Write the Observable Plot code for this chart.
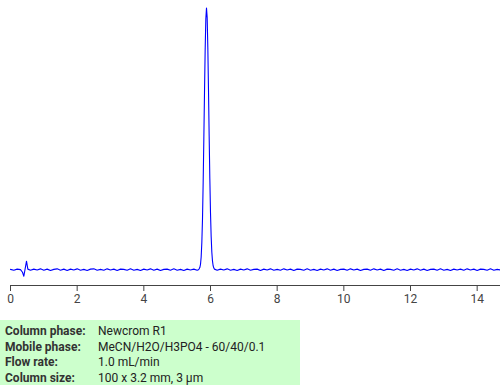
<!DOCTYPE html>
<html>
<head>
<meta charset="utf-8">
<script src="https://cdn.jsdelivr.net/npm/d3@7"></script>
<script src="https://cdn.jsdelivr.net/npm/@observablehq/plot@0.6"></script>
<style>
  html, body { margin: 0; padding: 0; background: #fff; }
  body { width: 500px; height: 385px; overflow: hidden; font-family: Roboto, "Noto Sans", sans-serif; }
  #info { width: 300px; height: 65px; background: #ccffcc; box-sizing: border-box; padding: 4px 0 0 5px; font-size: 12px; color: #222; }
  #info table { border-collapse: collapse; }
  #info td { padding: 0; line-height: 15.5px; }
  #info td.k { font-weight: bold; color: #333; width: 93px; }
</style>
</head>
<body>
<div id="chart"></div>
<div id="info"></div>
<script>
// Retention time (min) and detector signal (relative)
const time = [
  0.0,0.1,0.2,0.3,0.36,0.40,0.44,0.48,0.52,0.6,0.7,0.8,0.9,
  1.0,1.1,1.2,1.3,1.4,1.5,1.6,1.7,1.8,1.9,
  2.0,2.1,2.2,2.3,2.4,2.5,2.6,2.7,2.8,2.9,
  3.0,3.1,3.2,3.3,3.4,3.5,3.6,3.7,3.8,3.9,
  4.0,4.1,4.2,4.3,4.4,4.5,4.6,4.7,4.8,4.9,
  5.0,5.1,5.2,5.3,5.4,5.5,5.6,
  5.64,5.66,5.68,5.70,5.72,5.74,5.76,5.78,5.80,5.82,5.84,5.86,5.88,5.90,5.92,5.94,5.96,5.98,6.00,6.02,6.04,6.06,6.08,6.10,6.12,
  6.2,6.3,6.4,6.5,6.6,6.7,6.8,6.9,
  7.0,7.1,7.2,7.3,7.4,7.5,7.6,7.7,7.8,7.9,
  8.0,8.1,8.2,8.3,8.4,8.5,8.6,8.7,8.8,8.9,
  9.0,9.1,9.2,9.3,9.4,9.5,9.6,9.7,9.8,9.9,
  10.0,10.1,10.2,10.3,10.4,10.5,10.6,10.7,10.8,10.9,
  11.0,11.1,11.2,11.3,11.4,11.5,11.6,11.7,11.8,11.9,
  12.0,12.1,12.2,12.3,12.4,12.5,12.6,12.7,12.8,12.9,
  13.0,13.1,13.2,13.3,13.4,13.5,13.6,13.7,13.8,13.9,
  14.0,14.1,14.2,14.3,14.4,14.5,14.6,14.7
];
const signal = [
  0.001,-0.002,0.002,0.000,-0.010,-0.025,0.004,0.032,0.002,-0.002,0.002,-0.001,0.003,
  -0.002,0.002,-0.003,0.001,0.003,-0.002,0.002,-0.003,0.002,-0.001,
  0.003,-0.002,0.001,-0.003,0.002,0.003,-0.002,0.001,-0.002,0.003,
  -0.001,0.002,-0.003,0.002,0.001,-0.002,0.003,-0.002,0.001,-0.003,
  0.002,-0.001,0.003,-0.002,0.002,-0.003,0.001,0.002,-0.002,0.003,
  -0.002,0.001,-0.003,0.002,-0.001,0.002,-0.002,
  0.000,0.003,0.008,0.020,0.048,0.103,0.192,0.330,0.495,0.670,0.832,0.950,0.990,0.955,0.840,0.680,0.505,0.345,0.215,0.125,0.066,0.032,0.014,0.006,0.002,
  -0.002,0.002,-0.001,0.003,-0.002,0.001,-0.003,0.002,
  -0.001,0.003,-0.002,0.001,0.002,-0.003,0.002,-0.001,0.003,-0.002,
  0.001,-0.002,0.003,-0.001,0.002,-0.003,0.002,0.001,-0.002,0.003,
  -0.002,0.001,-0.003,0.002,-0.001,0.003,-0.002,0.002,-0.003,0.001,
  0.002,-0.002,0.003,-0.001,0.002,-0.003,0.001,0.002,-0.002,0.003,
  -0.001,0.002,-0.003,0.002,0.001,-0.002,0.003,-0.002,0.001,-0.003,
  0.002,-0.001,0.003,-0.002,0.002,-0.003,0.001,0.002,-0.002,0.003,
  -0.002,0.001,-0.003,0.002,-0.001,0.002,-0.002,0.003,-0.001,0.002,
  -0.003,0.002,0.001,-0.002,0.003,-0.002,0.001,-0.001
];
const xTicks = [0, 2, 4, 6, 8, 10, 12, 14];
const infoLabels = ["Column phase:", "Mobile phase:", "Flow rate:", "Column size:"];
const infoValues = ["Newcrom R1", "MeCN/H2O/H3PO4 - 60/40/0.1", "1.0 mL/min", "100 x 3.2 mm, 3 µm"];

const data = time.map((t, i) => ({t, v: signal[i]}));

const chart = Plot.plot({
  width: 500,
  height: 320,
  marginLeft: 10,
  marginRight: 0,
  marginTop: 5,
  marginBottom: 35,
  style: {fontFamily: "Roboto, sans-serif", fontSize: "12px", color: "#444", background: "#fff"},
  x: {domain: [0, 14.7], ticks: xTicks, tickFormat: d => String(d), label: null, tickSize: 6, tickPadding: 3},
  y: {domain: [-0.06, 1.0], axis: null},
  marks: [
    Plot.ruleY([-0.06], {stroke: "#444", strokeWidth: 1}),
    Plot.axisX({ticks: xTicks, tickFormat: d => String(d), label: null, tickSize: 6, tickPadding: 3, stroke: "#444", fill: "#444", fontSize: 12}),
    Plot.line(data, {x: "t", y: "v", stroke: "#0000ff", strokeWidth: 1.1, curve: "linear"})
  ]
});
document.getElementById("chart").appendChild(chart);

const tbl = document.createElement("table");
infoLabels.forEach((k, i) => {
  const tr = document.createElement("tr");
  const a = document.createElement("td"); a.className = "k"; a.textContent = k;
  const b = document.createElement("td"); b.textContent = infoValues[i];
  tr.appendChild(a); tr.appendChild(b); tbl.appendChild(tr);
});
document.getElementById("info").appendChild(tbl);
</script>
</body>
</html>
